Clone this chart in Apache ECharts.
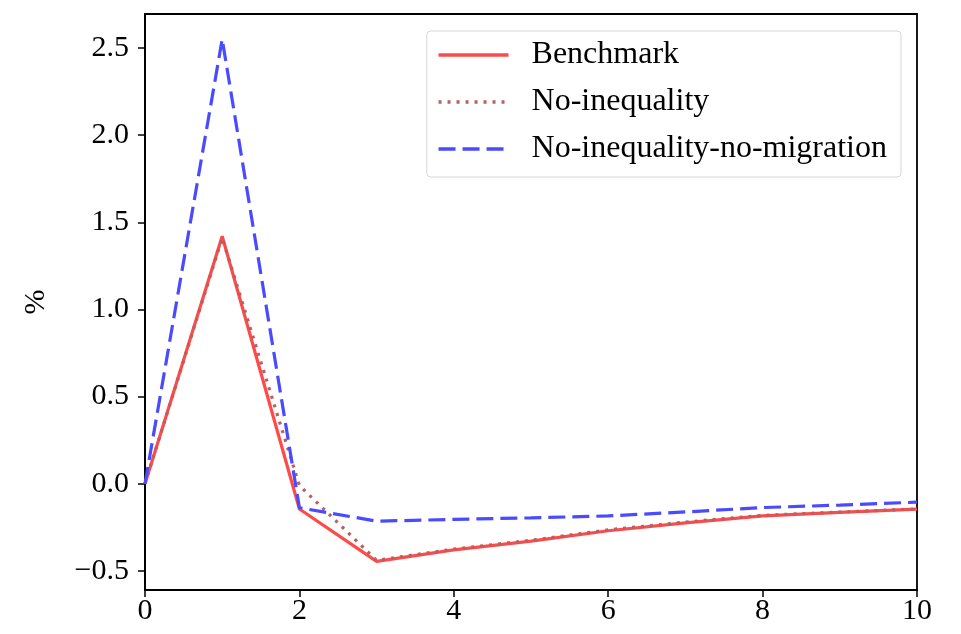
<!DOCTYPE html>
<html lang="en">
<head>
    <meta charset="UTF-8">
    <title>Impulse response</title>
    <script src="https://cdn.jsdelivr.net/npm/echarts@6/dist/echarts.min.js"></script>
    <style>
        html, body { margin: 0; padding: 0; background: #fff; }
        #main { width: 961px; height: 634px; }
    </style>
</head>
<body>
<div id="main"></div>
<script>
    // periods 0..10
    var periods = [0, 1, 2, 3, 4, 5, 6, 7, 8, 9, 10];
    var benchmark = [0, 1.42, -0.145, -0.446, -0.38, -0.33, -0.27, -0.225, -0.185, -0.165, -0.146];
    var noInequality = [0, 1.41, -0.01, -0.44, -0.375, -0.325, -0.265, -0.22, -0.182, -0.163, -0.145];
    var noInequalityNoMigration = [0, 2.55, -0.138, -0.215, -0.205, -0.196, -0.185, -0.162, -0.137, -0.123, -0.106];
    var yTicks = [-0.5, 0, 0.5, 1.0, 1.5, 2.0, 2.5];
    var seriesNames = ['Benchmark', 'No-inequality', 'No-inequality-no-migration'];

    function pairs(vals) {
        var out = [];
        for (var i = 0; i < periods.length; i++) {
            out.push([periods[i], vals[i]]);
        }
        return out;
    }

    var font = 'Liberation Serif';
    var myChart = echarts.init(document.getElementById('main'));
    var option = {
        animation: false,
        grid: {
            left: 145, right: 44, top: 14, bottom: 44,
            show: true, borderColor: '#000', borderWidth: 1.8
        },
        legend: {
            orient: 'vertical',
            right: 60,
            top: 31,
            itemWidth: 70,
            itemHeight: 14,
            itemGap: 15,
            padding: [8, 14, 12, 10],
            borderColor: '#d6d6d6',
            borderWidth: 1,
            borderRadius: 4,
            itemStyle: { opacity: 0 },
            lineStyle: { width: 3.5 },
            textStyle: { fontFamily: font, fontSize: 32, color: '#000', padding: [0, 0, 0, 18] },
            data: seriesNames
        },
        xAxis: {
            type: 'value',
            min: 0, max: 10, interval: 2,
            axisLine: { onZero: false, lineStyle: { color: '#000', width: 1.8 } },
            axisTick: { show: true, length: 7, lineStyle: { color: '#000', width: 1.5 } },
            axisLabel: { fontFamily: font, fontSize: 30, color: '#000', margin: 6 },
            splitLine: { show: false }
        },
        yAxis: {
            type: 'value',
            min: -0.61, max: 2.695,
            name: '%',
            nameLocation: 'middle',
            nameRotate: 90,
            nameGap: 94,
            nameTextStyle: { fontFamily: font, fontSize: 30, color: '#000' },
            axisLine: { show: true, onZero: false, lineStyle: { color: '#000', width: 1.8 } },
            axisTick: { show: true, length: 7, customValues: yTicks, lineStyle: { color: '#000', width: 1.5 } },
            axisLabel: {
                fontFamily: font, fontSize: 30, color: '#000', margin: 16,
                customValues: yTicks,
                formatter: function (v) {
                    var s = Math.abs(v).toFixed(1);
                    return v < 0 ? '\u2212' + s : s;
                }
            },
            splitLine: { show: false }
        },
        series: [
            {
                name: seriesNames[0], type: 'line', symbol: 'none',
                data: pairs(benchmark),
                lineStyle: { color: '#ff4a4a', width: 3.2 },
                itemStyle: { color: '#ff4a4a' }
            },
            {
                name: seriesNames[1], type: 'line', symbol: 'none',
                data: pairs(noInequality),
                lineStyle: { color: '#b85f5f', width: 3.2, type: [3, 6] },
                itemStyle: { color: '#b85f5f' }
            },
            {
                name: seriesNames[2], type: 'line', symbol: 'none',
                data: pairs(noInequalityNoMigration),
                lineStyle: { color: '#4a4aff', width: 3.2, type: [17, 7] },
                itemStyle: { color: '#4a4aff' }
            }
        ]
    };
    myChart.setOption(option);
</script>
</body>
</html>
